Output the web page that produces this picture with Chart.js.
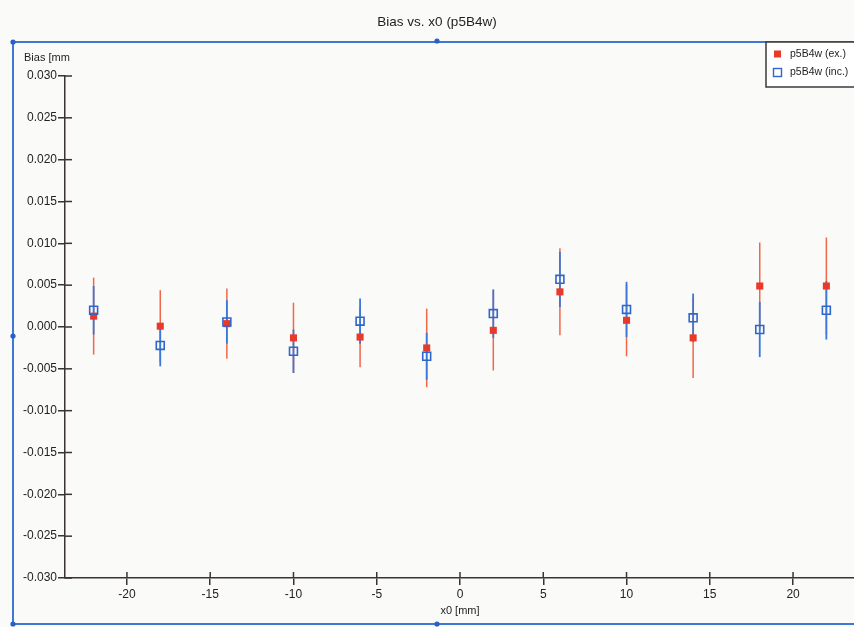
<!DOCTYPE html>
<html>
<head>
<meta charset="utf-8">
<title>Bias vs. x0 (p5B4w)</title>
<script src="https://cdn.jsdelivr.net/npm/chart.js@4.4.1/dist/chart.umd.min.js"></script>
<style>
  html, body { margin: 0; padding: 0; background: #fafaf8; }
  #wrap { width: 854px; height: 627px; }
  canvas { display: block; }
</style>
</head>
<body>
<div id="wrap"><canvas id="chart" width="854" height="627"></canvas></div>
<script>
// Measurement positions along x0 [mm]
const xPositions = [-22, -18, -14, -10, -6, -2, 2, 6, 10, 14, 18, 22];

// Bias [mm] and its uncertainty, track excluded from the fit
const exBias = [0.0013, 0.0001, 0.0004, -0.0013, -0.0012, -0.0025, -0.0004, 0.0042, 0.0008, -0.0013, 0.0049, 0.0049];
const exErr  = [0.0046, 0.0043, 0.0042, 0.0042, 0.0036, 0.0047, 0.0048, 0.0052, 0.0043, 0.0048, 0.0052, 0.0058];

// Bias [mm] and its uncertainty, track included in the fit
const incBias = [0.0020, -0.0022, 0.0006, -0.0029, 0.0007, -0.0035, 0.0016, 0.0057, 0.0021, 0.0011, -0.0003, 0.0020];
const incErr  = [0.0029, 0.0025, 0.0026, 0.0026, 0.0027, 0.0028, 0.0029, 0.0033, 0.0033, 0.0029, 0.0033, 0.0035];

// Axis tick values
const xTicks = [-20, -15, -10, -5, 0, 5, 10, 15, 20];
const yTicks = [0.030, 0.025, 0.020, 0.015, 0.010, 0.005, 0.000, -0.005, -0.010, -0.015, -0.020, -0.025, -0.030];

const seriesLabels = ['p5B4w (ex.)', 'p5B4w (inc.)'];
const titleText = 'Bias vs. x0 (p5B4w)';
const xTitle = 'x0 [mm]';
const yTitle = 'Bias [mm';

const FONT = '"Liberation Sans", Arial, Helvetica, sans-serif';
const RED = '#e8392a';
const RED_BAR = '#f0674a';
const BLUE = '#2f66cc';
const BLUE_BAR = '#3c78d8';
const AXIS = '#3a3333';
const FRAME = '#3d78d6';

const toPoints = (vals, errs) => xPositions.map((x, i) => ({ x: x, y: vals[i], err: errs[i] }));

// Vertical error bars drawn under the markers
const errorBars = {
  id: 'errorBars',
  beforeDatasetsDraw(chart) {
    const ctx = chart.ctx, xs = chart.scales.x, ys = chart.scales.y;
    chart.data.datasets.forEach(ds => {
      ctx.save();
      ctx.strokeStyle = ds.errorColor;
      ctx.lineWidth = ds.errorWidth;
      ds.data.forEach(p => {
        const px = xs.getPixelForValue(p.x);
        ctx.beginPath();
        ctx.moveTo(px, ys.getPixelForValue(p.y - p.err));
        ctx.lineTo(px, ys.getPixelForValue(p.y + p.err));
        ctx.stroke();
      });
      ctx.restore();
    });
  }
};

// Tick marks that cross into the plot area
const innerTicks = {
  id: 'innerTicks',
  afterDatasetsDraw(chart) {
    const ctx = chart.ctx, xs = chart.scales.x, ys = chart.scales.y, a = chart.chartArea;
    ctx.save();
    ctx.strokeStyle = AXIS;
    ctx.lineWidth = 1.5;
    yTicks.forEach(v => {
      const py = ys.getPixelForValue(v);
      ctx.beginPath(); ctx.moveTo(a.left, py); ctx.lineTo(a.left + 7, py); ctx.stroke();
    });
    xTicks.forEach(v => {
      const px = xs.getPixelForValue(v);
      ctx.beginPath(); ctx.moveTo(px, a.bottom); ctx.lineTo(px, a.bottom - 6); ctx.stroke();
    });
    ctx.restore();
  }
};

// Title, axis titles, selection frame and legend box
const decorations = {
  id: 'decorations',
  beforeDraw(chart) {
    const ctx = chart.ctx;
    ctx.save();
    ctx.fillStyle = '#fafaf8';
    ctx.fillRect(0, 0, chart.width, chart.height);
    // frame
    ctx.strokeStyle = FRAME;
    ctx.lineWidth = 2;
    ctx.beginPath();
    ctx.moveTo(860, 42); ctx.lineTo(13, 42); ctx.lineTo(13, 624); ctx.lineTo(860, 624);
    ctx.stroke();
    ctx.fillStyle = '#2a5fc4';
    [[13, 42], [437, 41], [13, 336], [13, 624], [437, 624]].forEach(([x, y]) => {
      ctx.beginPath(); ctx.arc(x, y, 2.6, 0, Math.PI * 2); ctx.fill();
    });
    // title
    ctx.fillStyle = '#1e1e1e';
    ctx.font = '13.5px ' + FONT;
    ctx.textAlign = 'center';
    ctx.textBaseline = 'middle';
    ctx.fillText(titleText, 437, 22);
    // axis titles
    ctx.font = '11px ' + FONT;
    ctx.textAlign = 'left';
    ctx.fillText(yTitle, 24, 58);
    ctx.textAlign = 'center';
    ctx.fillText(xTitle, chart.scales.x.getPixelForValue(0), 611);
    ctx.restore();
  },
  afterDraw(chart) {
    const ctx = chart.ctx;
    ctx.save();
    ctx.fillStyle = '#ffffff';
    ctx.fillRect(766, 42, 92, 45);
    ctx.strokeStyle = '#3a3a3a';
    ctx.lineWidth = 1.5;
    ctx.strokeRect(766, 42, 92, 45);
    ctx.font = '10.5px ' + FONT;
    ctx.textAlign = 'left';
    ctx.textBaseline = 'middle';
    // excluded entry: filled square
    ctx.fillStyle = RED;
    ctx.fillRect(774, 50.5, 7, 7);
    ctx.fillStyle = '#1e1e1e';
    ctx.fillText(seriesLabels[0], 790, 54.5);
    // included entry: open square
    ctx.strokeStyle = BLUE;
    ctx.lineWidth = 1.4;
    ctx.strokeRect(773.5, 68.5, 8, 8);
    ctx.fillStyle = '#1e1e1e';
    ctx.fillText(seriesLabels[1], 790, 72.5);
    ctx.restore();
  }
};

new Chart(document.getElementById('chart'), {
  type: 'scatter',
  data: {
    datasets: [
      {
        label: seriesLabels[0],
        data: toPoints(exBias, exErr),
        order: 1,
        pointStyle: 'rect',
        pointRadius: 5,
        pointHoverRadius: 5,
        backgroundColor: RED,
        borderColor: RED,
        borderWidth: 0,
        errorColor: RED_BAR,
        errorWidth: 1.5
      },
      {
        label: seriesLabels[1],
        data: toPoints(incBias, incErr),
        order: 0,
        pointStyle: 'rect',
        pointRadius: 5.6,
        pointHoverRadius: 5.6,
        backgroundColor: 'rgba(0,0,0,0)',
        borderColor: BLUE,
        borderWidth: 1.6,
        errorColor: BLUE_BAR,
        errorWidth: 1.8
      }
    ]
  },
  options: {
    responsive: false,
    animation: false,
    events: [],
    layout: { autoPadding: false, padding: { top: 76, right: 0, bottom: 0, left: 0 } },
    plugins: {
      legend: { display: false },
      title: { display: false },
      tooltip: { enabled: false }
    },
    scales: {
      x: {
        type: 'linear',
        min: -23.72,
        max: 23.66,
        afterBuildTicks(scale) { scale.ticks = xTicks.map(v => ({ value: v })); },
        afterFit(scale) { scale.height = 49; scale.paddingLeft = 0; scale.paddingRight = 0; },
        grid: { drawOnChartArea: false, drawTicks: true, tickLength: 7, color: AXIS, lineWidth: 1.5 },
        border: { display: true, color: AXIS, width: 1.5 },
        ticks: {
          padding: 2,
          color: '#222',
          font: { family: FONT, size: 12 },
          maxRotation: 0,
          autoSkip: false,
          callback: v => String(v)
        }
      },
      y: {
        type: 'linear',
        min: -0.030,
        max: 0.030,
        afterBuildTicks(scale) { scale.ticks = yTicks.map(v => ({ value: v })); },
        afterFit(scale) { scale.width = 65; scale.paddingTop = 0; scale.paddingBottom = 0; },
        grid: { drawOnChartArea: false, drawTicks: true, tickLength: 7, color: AXIS, lineWidth: 1.5 },
        border: { display: true, color: AXIS, width: 1.5 },
        ticks: {
          padding: 1,
          color: '#222',
          font: { family: FONT, size: 12 },
          autoSkip: false,
          callback: v => v.toFixed(3)
        }
      }
    }
  },
  plugins: [decorations, errorBars, innerTicks]
});
</script>
</body>
</html>
